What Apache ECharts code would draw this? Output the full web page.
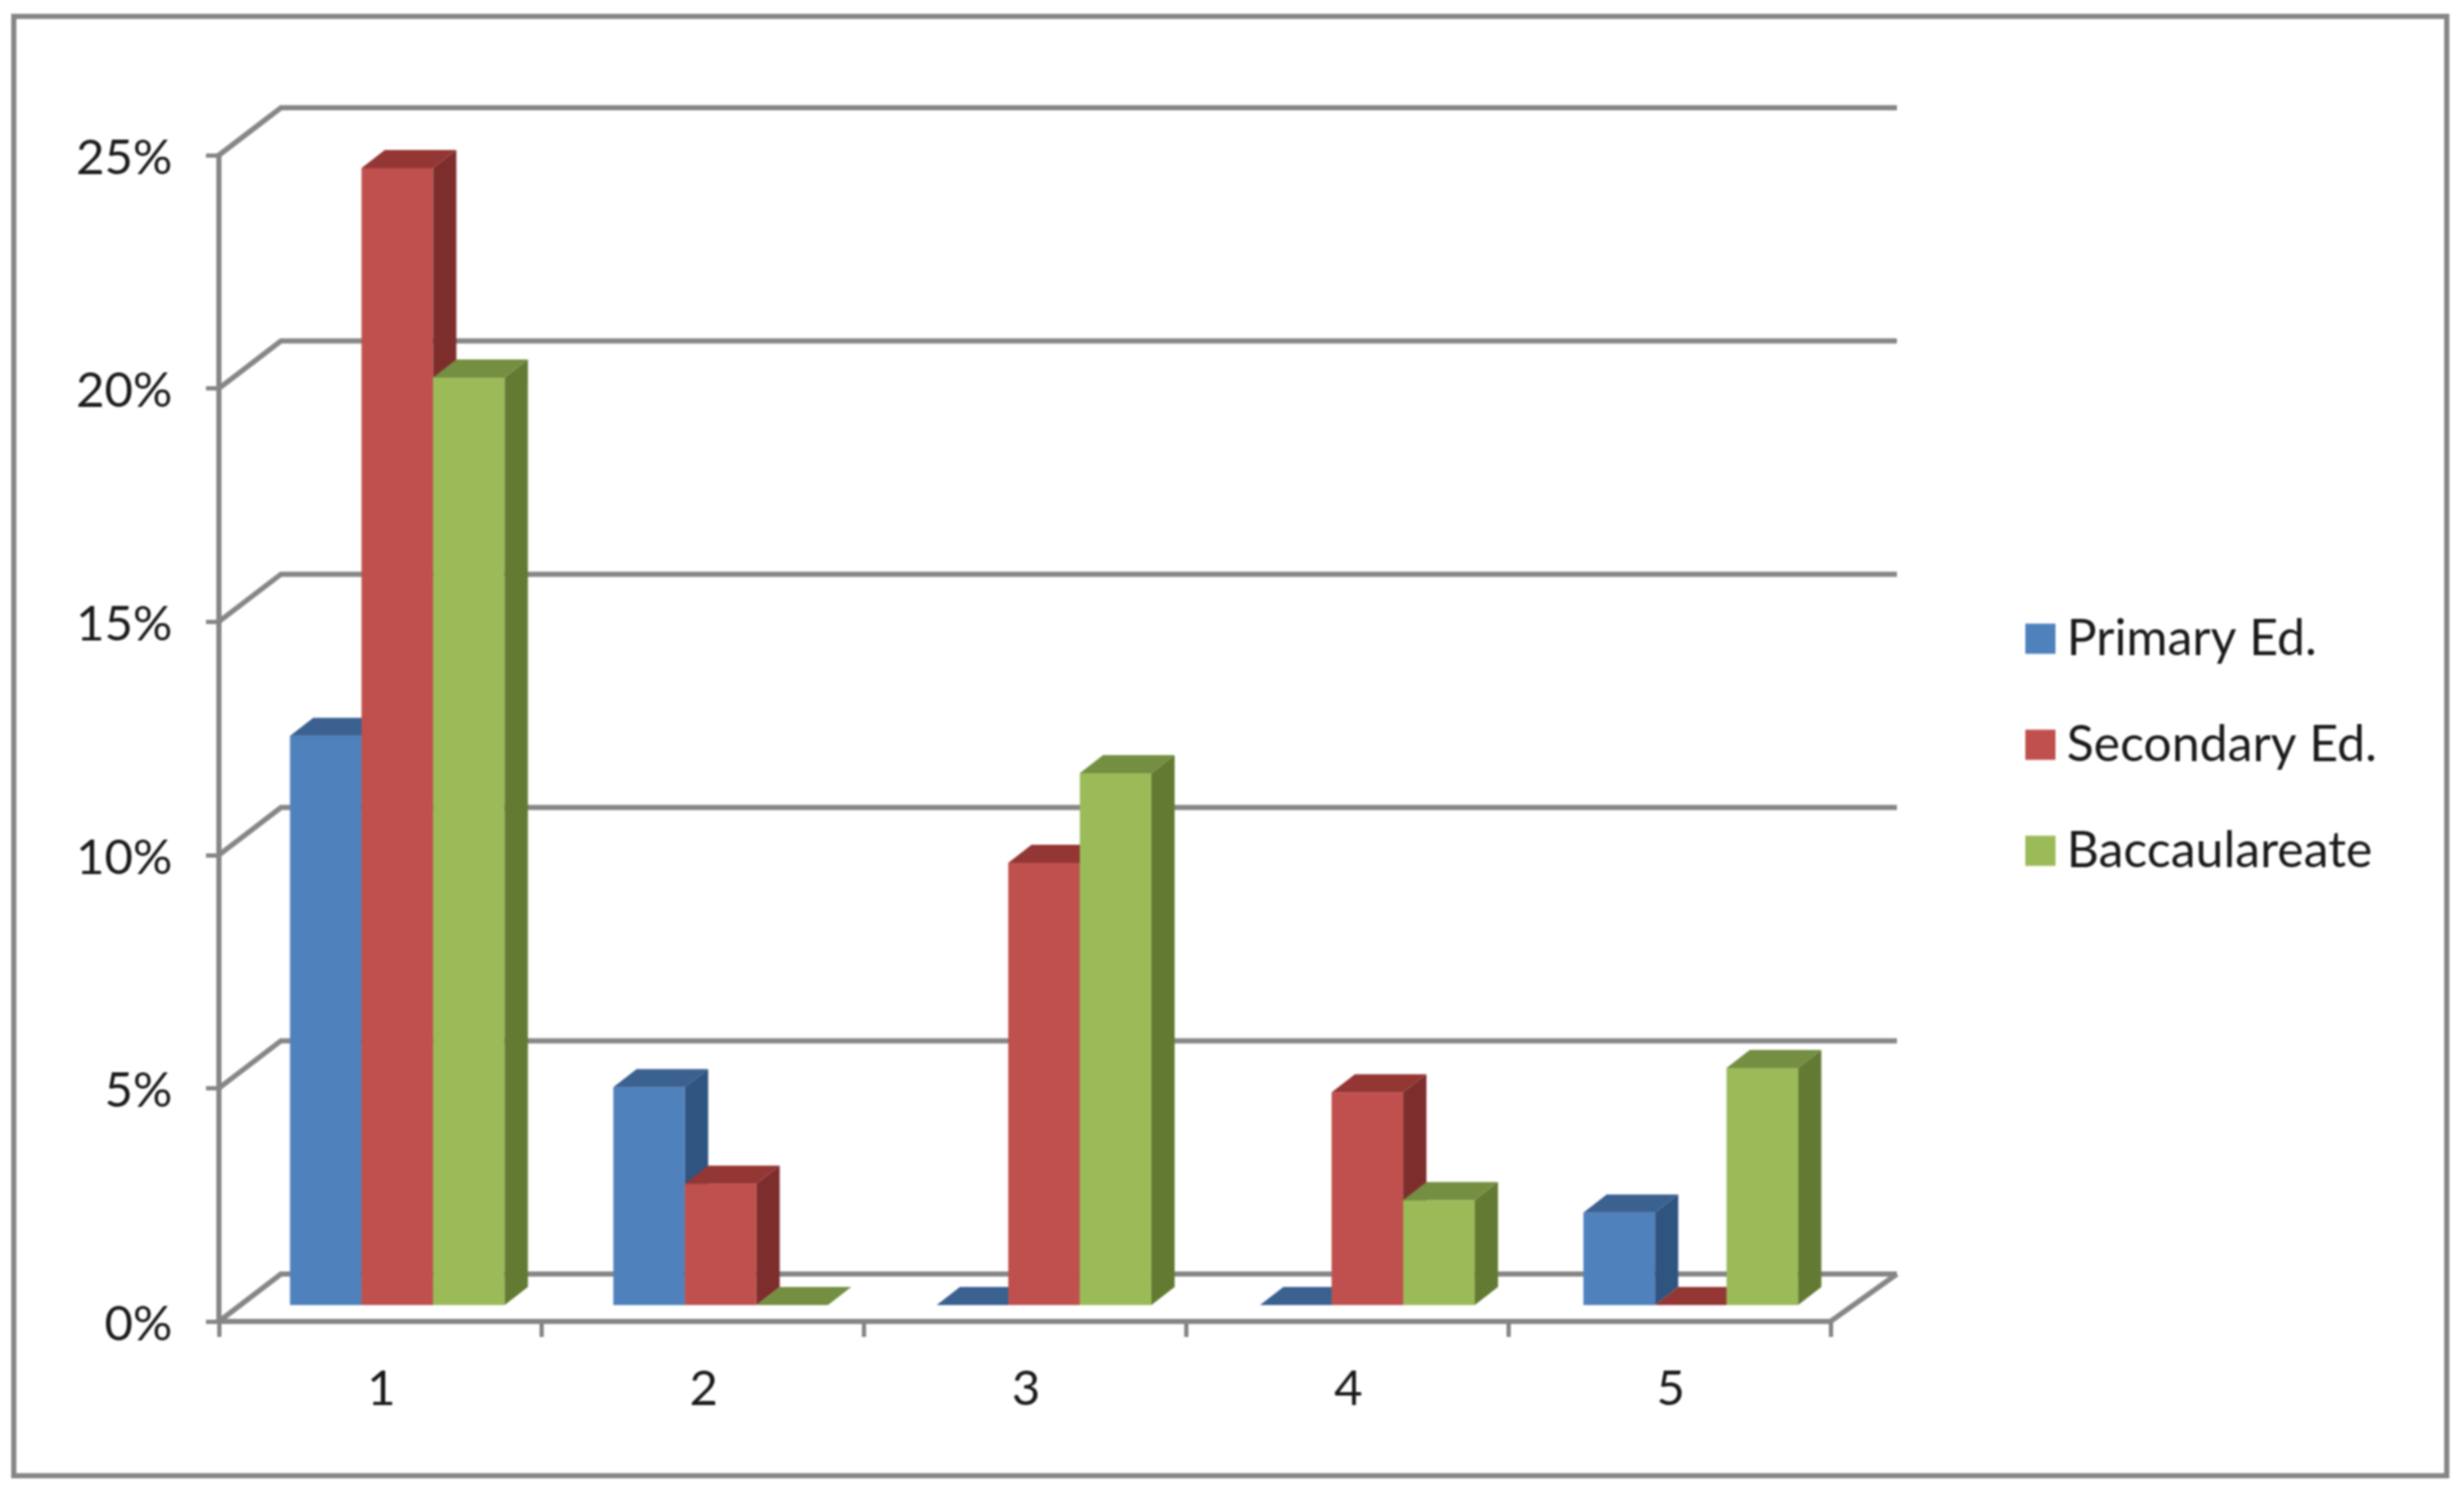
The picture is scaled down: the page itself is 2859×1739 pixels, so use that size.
<!DOCTYPE html>
<html>
<head>
<meta charset="utf-8">
<style>
html,body{margin:0;padding:0;background:#fff}
#chart{width:2859px;height:1739px;filter:blur(0.8px)}
</style>
<script src="https://cdn.jsdelivr.net/npm/echarts@6/dist/echarts.min.js"></script>
</head>
<body>
<div id="chart"></div>
<script>
const categories = ['1','2','3','4','5'];
const yTicks = [0,5,10,15,20,25];
const primaryEd = [12.2,4.67,0,0,1.98];
const secondaryEd = [24.37,2.6,9.48,4.56,0];
const baccalaureate = [19.88,0,11.4,2.25,5.08];

const FONT = 'Lato';
const TEXT_COLOR = '#1a1a1a';
const GRID_COLOR = '#868686';
const WALL = {dx:72, dy:-55, rightExtra:5};
const PLANE = {dx:20, dy:-19, perCategory:1.2};
const DEPTH = {dx:27, dy:-21};
const BAR_FRAC = 0.222;

const chart = echarts.init(document.getElementById('chart'), null, {renderer:'canvas'});

function wallItem(params, api){
  const c = params.coordSys;
  const left = c.x, right = c.x + c.width;
  const v = api.value(1);
  const y = api.coord([0, v])[1];
  const backRight = right + WALL.dx + WALL.rightExtra;
  const style = {stroke:GRID_COLOR, lineWidth:6, fill:null};
  const children = [{
    type:'polyline', silent:true, style,
    shape:{points:[[left,y],[left+WALL.dx,y+WALL.dy],[backRight,y+WALL.dy]]}
  }];
  if (v === 0) {
    children.push({type:'polyline', silent:true, style,
      shape:{points:[[left,y],[right,y],[backRight,y+WALL.dy]]}});
  }
  return {type:'group', children};
}

function barSeries(name, values, slot, front, top, side){
  return {
    name, type:'custom', coordinateSystem:'cartesian2d', clip:false,
    data: values.map((v,i)=>[i,v]),
    encode:{x:0,y:1},
    itemStyle:{color:front},
    renderItem(params, api){
      const i = api.value(0), v = api.value(1);
      const t = api.coord([i,v]), b = api.coord([i,0]);
      const w = api.size([1,0])[0]*BAR_FRAC;
      const x = t[0] + (slot-1.5)*w + PLANE.dx + i*PLANE.perCategory;
      const yt = t[1] + PLANE.dy, yb = b[1] + PLANE.dy;
      const dx = DEPTH.dx, dy = DEPTH.dy;
      const poly = (points, fill)=>({type:'polygon', silent:true, shape:{points}, style:{fill}});
      return {type:'group', children:[
        poly([[x,yt],[x+w,yt],[x+w,yb],[x,yb]], front),
        poly([[x+w,yt],[x+w+dx,yt+dy],[x+w+dx,yb+dy],[x+w,yb]], side),
        poly([[x,yt],[x+w,yt],[x+w+dx,yt+dy],[x+dx,yt+dy]], top)
      ]};
    }
  };
}

chart.setOption({
  backgroundColor:'#ffffff',
  animation:false,
  textStyle:{fontFamily:FONT},
  grid:{left:254, right:735, top:180, bottom:206, containLabel:false},
  graphic:[{type:'rect', silent:true, z:-10,
    shape:{x:16,y:19,width:2823,height:1693},
    style:{fill:'#ffffff',stroke:GRID_COLOR,lineWidth:6}}],
  legend:{
    orient:'vertical', left:2345, top:707, itemWidth:35, itemHeight:35, itemGap:65, itemSpacing:16,
    icon:'rect',
    data:['Primary Ed.','Secondary Ed.','Baccaulareate'],
    selectedMode:false,
    textStyle:{fontFamily:FONT,fontSize:58,color:TEXT_COLOR,padding:[3,0,0,8]},
    itemStyle:{borderWidth:0}
  },
  xAxis:{type:'category', data:categories, boundaryGap:true,
    axisLine:{show:true,onZero:false,lineStyle:{color:GRID_COLOR,width:6}},
    axisTick:{show:true,length:18,alignWithLabel:false,lineStyle:{color:GRID_COLOR,width:5}},
    axisLabel:{fontFamily:FONT,fontSize:57,color:TEXT_COLOR,margin:50,hideOverlap:false,padding:[0,0,0,3]},
    splitLine:{show:false}},
  yAxis:{type:'value', min:0, max:25, interval:5,
    axisLine:{show:true,lineStyle:{color:GRID_COLOR,width:6}},
    axisTick:{show:true,length:15,lineStyle:{color:GRID_COLOR,width:5}},
    axisLabel:{fontFamily:FONT,fontSize:57,color:TEXT_COLOR,margin:54,formatter:'{value}%',verticalAlign:'top',lineHeight:7},
    splitLine:{show:false}},
  series:[
    {name:'walls', type:'custom', coordinateSystem:'cartesian2d', clip:false, z:1,
     data:yTicks.map(v=>[0,v]), encode:{x:0,y:1}, renderItem:wallItem},
    Object.assign(barSeries('Primary Ed.', primaryEd, 0, '#4F81BD', '#3A6190', '#2F5480'),{z:2}),
    Object.assign(barSeries('Secondary Ed.', secondaryEd, 1, '#C0504D', '#943634', '#7D2E2C'),{z:3}),
    Object.assign(barSeries('Baccaulareate', baccalaureate, 2, '#9BBB59', '#748F41', '#637A33'),{z:4})
  ]
});
</script>
</body>
</html>
